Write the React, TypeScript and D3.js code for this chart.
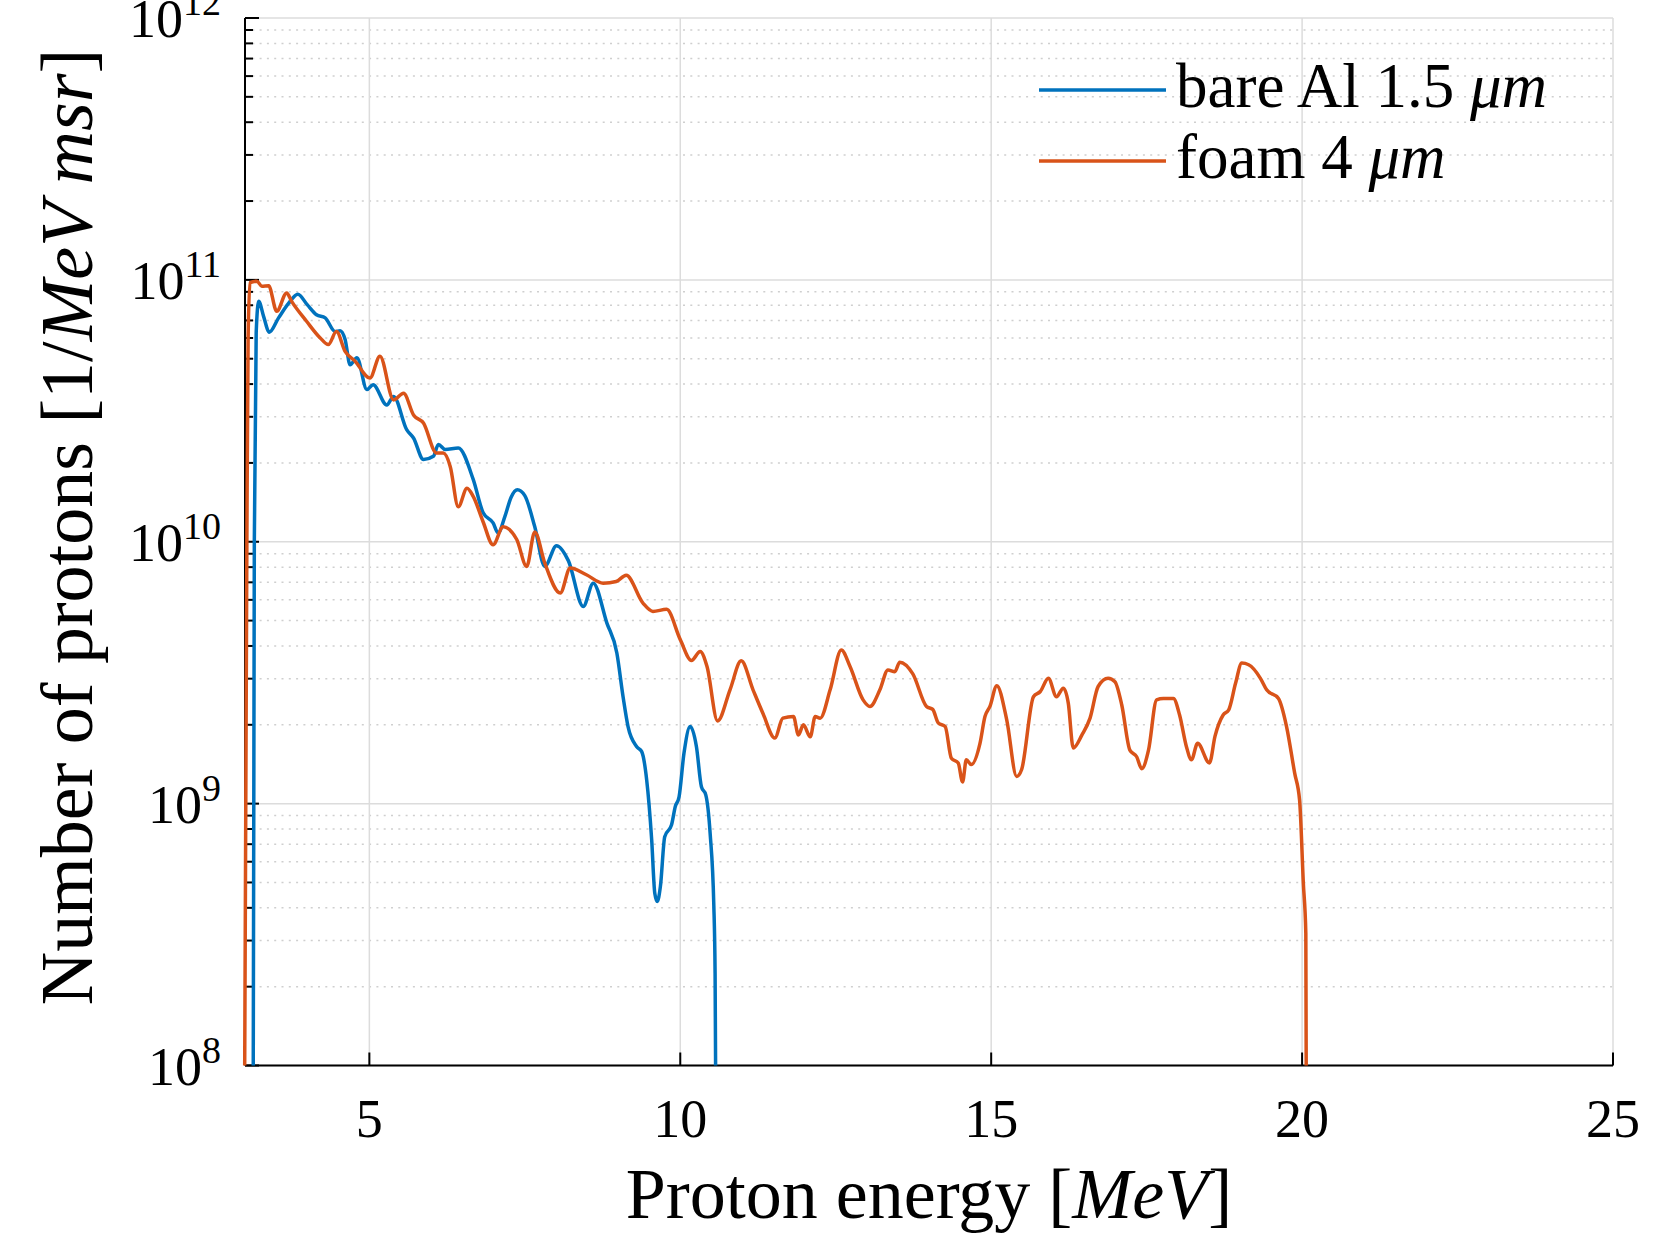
import React from 'react';
import * as d3 from 'd3';

// bare Al 1.5 um target
const bareEnergy = [
  3.13, 3.15, 3.18, 3.22, 3.3, 3.39, 3.54, 3.7, 3.85, 4.0, 4.15, 4.29, 4.45, 4.53, 4.61, 4.69, 4.8, 4.96,
  5.06, 5.28, 5.39, 5.6, 5.71, 5.87, 6.03, 6.11, 6.22, 6.43, 6.67, 6.83, 6.99, 7.07, 7.18, 7.28, 7.38,
  7.5, 7.66, 7.82, 8.01, 8.2, 8.44, 8.6, 8.82, 8.98, 9.08, 9.16, 9.3, 9.38, 9.46, 9.54, 9.59, 9.63, 9.68,
  9.75, 9.86, 9.92, 9.98, 10.06, 10.16, 10.26, 10.34, 10.41, 10.48, 10.54, 10.56, 10.575,
];
const bareCounts = [
  5e7, 1.0e10, 6.3e10, 8.28e10, 7.24e10, 6.31e10, 7.16e10, 8.13e10, 8.81e10, 8.04e10, 7.36e10, 7.16e10,
  6.35e10, 6.4e10, 5.92e10, 4.74e10, 5.04e10, 3.81e10, 3.98e10, 3.33e10, 3.59e10, 2.68e10, 2.49e10,
  2.06e10, 2.12e10, 2.35e10, 2.25e10, 2.28e10, 1.73e10, 1.29e10, 1.18e10, 1.08e10, 1.25e10, 1.48e10,
  1.58e10, 1.5e10, 1.14e10, 8.05e9, 9.66e9, 8.47e9, 5.66e9, 6.95e9, 4.89e9, 3.76e9, 2.56e9, 1.97e9,
  1.65e9, 1.58e9, 1.23e9, 7.28e8, 4.55e8, 4.23e8, 4.82e8, 7.48e8, 8.3e8, 9.75e8, 1.06e9, 1.56e9, 1.97e9,
  1.65e9, 1.16e9, 1.08e9, 7.71e8, 4.05e8, 2.25e8, 5e7,
];

// foam 4 um target
const foamEnergy = [
  2.99, 3.03, 3.05, 3.08, 3.19, 3.27, 3.38, 3.51, 3.67, 3.75, 3.99, 4.21, 4.34, 4.47, 4.61, 4.77, 5.01,
  5.17, 5.39, 5.55, 5.71, 5.87, 6.08, 6.19, 6.3, 6.43, 6.57, 6.67, 6.83, 6.99, 7.15, 7.37, 7.53, 7.66,
  7.82, 8.07, 8.23, 8.49, 8.76, 8.97, 9.13, 9.4, 9.56, 9.78, 10.0, 10.18, 10.32, 10.43, 10.6, 10.8, 10.98,
  11.17, 11.33, 11.52, 11.65, 11.82, 11.9, 11.98, 12.09, 12.17, 12.25, 12.41, 12.59, 12.73, 12.94, 13.05,
  13.21, 13.34, 13.45, 13.53, 13.74, 13.96, 14.06, 14.15, 14.26, 14.36, 14.47, 14.54, 14.6, 14.68, 14.82,
  14.9, 14.98, 15.09, 15.25, 15.41, 15.49, 15.68, 15.79, 15.92, 16.05, 16.16, 16.24, 16.32, 16.46, 16.59,
  16.72, 16.88, 16.99, 17.1, 17.23, 17.34, 17.42, 17.53, 17.66, 17.77, 17.93, 18.03, 18.14, 18.22, 18.32,
  18.51, 18.6, 18.73, 18.82, 18.93, 19.03, 19.14, 19.33, 19.43, 19.62, 19.75, 19.88, 19.96, 20.02, 20.06,
  20.07,
];
const foamCounts = [
  5e7, 1.0e10, 6.0e10, 9.77e10, 9.89e10, 9.46e10, 9.5e10, 7.59e10, 8.91e10, 8.28e10, 6.95e10, 6.0e10,
  5.66e10, 6.35e10, 5.33e10, 4.89e10, 4.22e10, 5.11e10, 3.48e10, 3.69e10, 3.05e10, 2.84e10, 2.18e10,
  2.18e10, 1.94e10, 1.36e10, 1.6e10, 1.49e10, 1.19e10, 9.73e9, 1.14e10, 1.02e10, 8.05e9, 1.09e10, 8.3e9,
  6.37e9, 7.94e9, 7.48e9, 6.95e9, 7.05e9, 7.45e9, 5.83e9, 5.42e9, 5.52e9, 4.23e9, 3.52e9, 3.81e9, 3.34e9,
  2.07e9, 2.72e9, 3.51e9, 2.72e9, 2.21e9, 1.78e9, 2.12e9, 2.15e9, 1.83e9, 2.0e9, 1.8e9, 2.15e9, 2.12e9,
  2.72e9, 3.86e9, 3.34e9, 2.49e9, 2.35e9, 2.72e9, 3.24e9, 3.19e9, 3.47e9, 3.13e9, 2.35e9, 2.29e9, 2.03e9,
  1.97e9, 1.49e9, 1.43e9, 1.21e9, 1.47e9, 1.41e9, 1.7e9, 2.15e9, 2.35e9, 2.82e9, 2.09e9, 1.27e9, 1.35e9,
  2.56e9, 2.68e9, 3.01e9, 2.56e9, 2.76e9, 2.42e9, 1.63e9, 1.83e9, 2.12e9, 2.8e9, 3.01e9, 2.92e9, 2.38e9,
  1.6e9, 1.51e9, 1.36e9, 1.6e9, 2.49e9, 2.52e9, 2.52e9, 2.18e9, 1.65e9, 1.47e9, 1.7e9, 1.43e9, 1.81e9,
  2.18e9, 2.28e9, 2.88e9, 3.44e9, 3.39e9, 3.01e9, 2.72e9, 2.52e9, 1.97e9, 1.31e9, 1.03e9, 4.97e8, 3.2e8,
  5e7,
];

const xTickValues = [5, 10, 15, 20, 25];
const yTickExponents = [8, 9, 10, 11, 12];
const seriesNames = ['bare Al 1.5', 'foam 4'];
const seriesColors = ['#0072BD', '#D95319'];

const W = 1654;
const H = 1257;
const left = 245;
const right = 1613;
const top = 18;
const bottom = 1065.5;
const font = '"Liberation Serif", "Times New Roman", serif';

export default function App() {
  const x = d3.scaleLinear().domain([3, 25]).range([left, right]);
  const y = d3.scaleLog().domain([1e8, 1e12]).range([bottom, top]);

  const line = d3
    .line<[number, number]>()
    .x((d) => x(d[0]))
    .y((d) => y(d[1]))
    .curve(d3.curveMonotoneX);

  const bare = bareEnergy.map((e, i) => [e, bareCounts[i]] as [number, number]);
  const foam = foamEnergy.map((e, i) => [e, foamCounts[i]] as [number, number]);

  // log ticks: decades are major, the 2..9 multiples are minor
  const allY = y.ticks();
  const isMajor = (v: number) => Math.abs(Math.log10(v) - Math.round(Math.log10(v))) < 1e-6;
  const minorY = allY.filter((v) => !isMajor(v));

  return (
    <div style={{ position: 'absolute', left: 0, top: 0 }}>
      <svg width={W} height={H} style={{ display: 'block', background: '#fff' }}>
        <defs>
          <clipPath id="plot">
            <rect x={left - 3} y={top} width={right - left + 3} height={bottom - top} />
          </clipPath>
        </defs>

        {/* minor grid */}
        {minorY.map((v) => (
          <line key={'mg' + v} x1={left} x2={right} y1={y(v)} y2={y(v)}
            stroke="#cfcfcf" strokeWidth={1.5} strokeDasharray="2,5.3" />
        ))}
        {/* major grid */}
        {yTickExponents.map((p) => (
          <line key={'gy' + p} x1={left} x2={right} y1={y(Math.pow(10, p))} y2={y(Math.pow(10, p))}
            stroke="#dcdcdc" strokeWidth={1.5} />
        ))}
        {xTickValues.map((t) => (
          <line key={'gx' + t} x1={x(t)} x2={x(t)} y1={top} y2={bottom} stroke="#dcdcdc" strokeWidth={1.5} />
        ))}

        {/* axes */}
        <line x1={left} x2={left} y1={top} y2={bottom} stroke="#000" strokeWidth={2} />
        <line x1={left} x2={right} y1={bottom} y2={bottom} stroke="#000" strokeWidth={2} />
        {xTickValues.map((t) => (
          <g key={'xt' + t}>
            <line x1={x(t)} x2={x(t)} y1={bottom} y2={bottom - 13} stroke="#000" strokeWidth={2} />
            <text x={x(t)} y={1137} fontFamily={font} fontSize={54} textAnchor="middle" fill="#000">{t}</text>
          </g>
        ))}
        {minorY.map((v) => (
          <line key={'ym' + v} x1={left} x2={left + 8} y1={y(v)} y2={y(v)} stroke="#000" strokeWidth={2} />
        ))}
        {yTickExponents.map((p) => (
          <g key={'yt' + p}>
            <line x1={left} x2={left + 14} y1={y(Math.pow(10, p))} y2={y(Math.pow(10, p))} stroke="#000" strokeWidth={2} />
            <text x={221} y={y(Math.pow(10, p)) + 19} fontFamily={font} fontSize={54} textAnchor="end" fill="#000">
              10<tspan dy={-22} fontSize={38}>{p}</tspan>
            </text>
          </g>
        ))}

        {/* series */}
        <g clipPath="url(#plot)">
          <path d={line(bare) || ''} fill="none" stroke={seriesColors[0]} strokeWidth={3.5} strokeLinejoin="round" />
          <path d={line(foam) || ''} fill="none" stroke={seriesColors[1]} strokeWidth={3.5} strokeLinejoin="round" />
        </g>

        {/* axis labels */}
        <text x={(left + right) / 2} y={1218} fontFamily={font} fontSize={72} textAnchor="middle" fill="#000">
          Proton energy [<tspan fontStyle="italic">MeV</tspan>]
        </text>
        <text transform="translate(92,527) rotate(-90)" fontFamily={font} fontSize={74} textAnchor="middle" fill="#000">
          Number of protons [1/<tspan fontStyle="italic">MeV msr</tspan>]
        </text>

        {/* legend */}
        {seriesNames.map((name, i) => (
          <g key={name}>
            <line x1={1039} x2={1166} y1={90 + i * 71} y2={90 + i * 71} stroke={seriesColors[i]} strokeWidth={3.5} />
            <text x={1176} y={107 + i * 71} fontFamily={font} fontSize={63} fill="#000">
              {name} <tspan fontStyle="italic">μm</tspan>
            </text>
          </g>
        ))}
      </svg>
    </div>
  );
}
